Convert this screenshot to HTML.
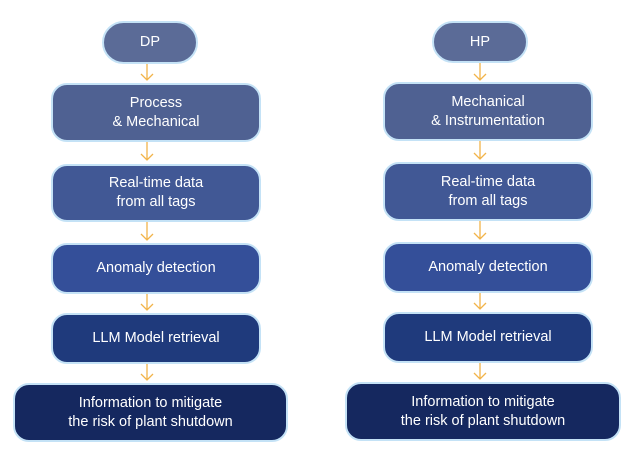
<!DOCTYPE html>
<html><head><style>
body{margin:0;width:630px;height:470px;background:#fff;position:relative;font-family:"Liberation Sans",sans-serif;overflow:hidden}
.b{position:absolute;box-sizing:border-box;border:2px solid #c4e2f6;border-radius:16px;color:#fff;font-size:14.5px;line-height:19px;display:flex;align-items:center;justify-content:center;text-align:center}
.p{border-radius:22px}
svg{position:absolute;left:0;top:0}
</style></head><body>
<svg width="630" height="470">
<g stroke="#f2b44a" stroke-width="1.3" fill="none">
<path d="M147 64V80M141 74L147 80L153 74"/>
<path d="M147 142V160M141 154L147 160L153 154"/>
<path d="M147 222V240M141 234L147 240L153 234"/>
<path d="M147 294V310M141 304L147 310L153 304"/>
<path d="M147 364V380M141 374L147 380L153 374"/>
<path d="M480 63V80M474 74L480 80L486 74"/>
<path d="M480 141V159M474 153L480 159L486 153"/>
<path d="M480 221V239M474 233L480 239L486 233"/>
<path d="M480 293V309M474 303L480 309L486 303"/>
<path d="M480 363V379M474 373L480 379L486 373"/>
</g></svg>
<div class="b p" style="left:102px;top:21px;width:96px;height:43px;background:#5b6b97">DP</div>
<div class="b" style="left:51px;top:83px;width:210px;height:59px;background:#4f6192">Process<br>&amp; Mechanical</div>
<div class="b" style="left:51px;top:164px;width:210px;height:58px;background:#415895">Real-time data<br>from all tags</div>
<div class="b" style="left:51px;top:243px;width:210px;height:51px;background:#344f99">Anomaly detection</div>
<div class="b" style="left:51px;top:313px;width:210px;height:51px;background:#1f3a7c">LLM Model retrieval</div>
<div class="b" style="left:13px;top:383px;width:275px;height:59px;background:#15285f">Information to mitigate<br>the risk of plant shutdown</div>

<div class="b p" style="left:432px;top:21px;width:96px;height:42px;background:#5b6b97">HP</div>
<div class="b" style="left:383px;top:82px;width:210px;height:59px;background:#4f6192">Mechanical<br>&amp; Instrumentation</div>
<div class="b" style="left:383px;top:162px;width:210px;height:59px;background:#415895">Real-time data<br>from all tags</div>
<div class="b" style="left:383px;top:242px;width:210px;height:51px;background:#344f99">Anomaly detection</div>
<div class="b" style="left:383px;top:312px;width:210px;height:51px;background:#1f3a7c">LLM Model retrieval</div>
<div class="b" style="left:345px;top:382px;width:276px;height:59px;background:#15285f">Information to mitigate<br>the risk of plant shutdown</div>
</body></html>
